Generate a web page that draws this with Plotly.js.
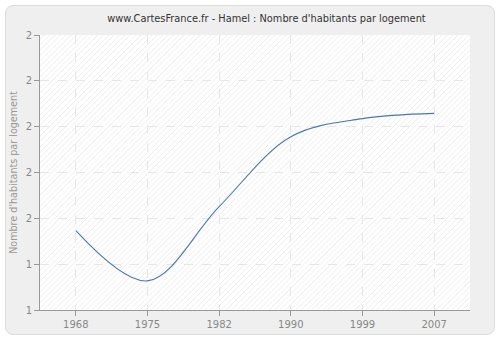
<!DOCTYPE html>
<html>
<head>
<meta charset="utf-8">
<script src="https://cdn.plot.ly/plotly-3.0.1.min.js"></script>
<style>
  html, body { margin: 0; padding: 0; background: #ffffff; }
  #frame { position: absolute; left: 5px; top: 5px; width: 488px; height: 328px;
           border: 1px solid #dcdcdc; border-radius: 8px; background: #efefef; }
  #hatch { position: absolute; left: 40px; top: 35px; width: 430px; height: 275px;
           background: repeating-linear-gradient(135deg, #ffffff 0px, #ffffff 2.5px, #ececec 3px, #ffffff 3.8px); }
  #chart { position: absolute; left: 0; top: 0; width: 500px; height: 340px; }
</style>
</head>
<body>
<div id="frame"></div>
<div id="hatch"></div>
<div id="chart"></div>
<script>
const years = ['1968', '1975', '1982', '1990', '1999', '2007'];
const habitantsParLogement = [1.546, 1.327, 1.651, 1.956, 2.035, 2.058];
const yTickValues = [1.2, 1.4, 1.6, 1.8, 2.0, 2.2, 2.4];
const yTickLabels = ['1', '1', '2', '2', '2', '2', '2'];

const trace = {
  x: years,
  y: habitantsParLogement,
  type: 'scatter',
  mode: 'lines',
  line: { color: '#4a76ad', width: 1.1, shape: 'spline', smoothing: 1 },
  hoverinfo: 'x+y'
};

const layout = {
  width: 500, height: 340,
  margin: { l: 40, r: 30, t: 35, b: 30 },
  paper_bgcolor: 'rgba(0,0,0,0)',
  plot_bgcolor: 'rgba(0,0,0,0)',
  font: { family: 'DejaVu Sans, Verdana, sans-serif', color: '#888888', size: 11 },
  title: {
    text: "www.CartesFrance.fr - Hamel : Nombre d'habitants par logement",
    font: { size: 9.8, color: '#333333', family: 'DejaVu Sans, Verdana, sans-serif' },
    x: 0.533, xref: 'container', xanchor: 'center',
    y: 0.944, yref: 'container', yanchor: 'middle'
  },
  showlegend: false,
  xaxis: {
    type: 'category',
    range: [-0.5, 5.5],
    showgrid: true, gridcolor: '#e6e6e6', griddash: 'dash', gridwidth: 1,
    showline: true, linecolor: '#999999', linewidth: 1,
    ticks: 'outside', ticklen: 5, tickcolor: '#999999',
    tickfont: { size: 10, color: '#888888' },
    zeroline: false, fixedrange: true
  },
  yaxis: {
    range: [1.2, 2.4],
    tickmode: 'array', tickvals: yTickValues, ticktext: yTickLabels,
    showgrid: true, gridcolor: '#e6e6e6', griddash: 'dash', gridwidth: 1,
    showline: true, linecolor: '#999999', linewidth: 1,
    ticks: 'outside', ticklen: 5, tickcolor: '#999999',
    tickfont: { size: 10, color: '#888888' },
    zeroline: false, fixedrange: true,
    title: { text: "Nombre d'habitants par logement", font: { size: 9.6, color: '#999999' }, standoff: 6 }
  }
};

Plotly.newPlot('chart', [trace], layout, { displayModeBar: false, staticPlot: true });
</script>
</body>
</html>
